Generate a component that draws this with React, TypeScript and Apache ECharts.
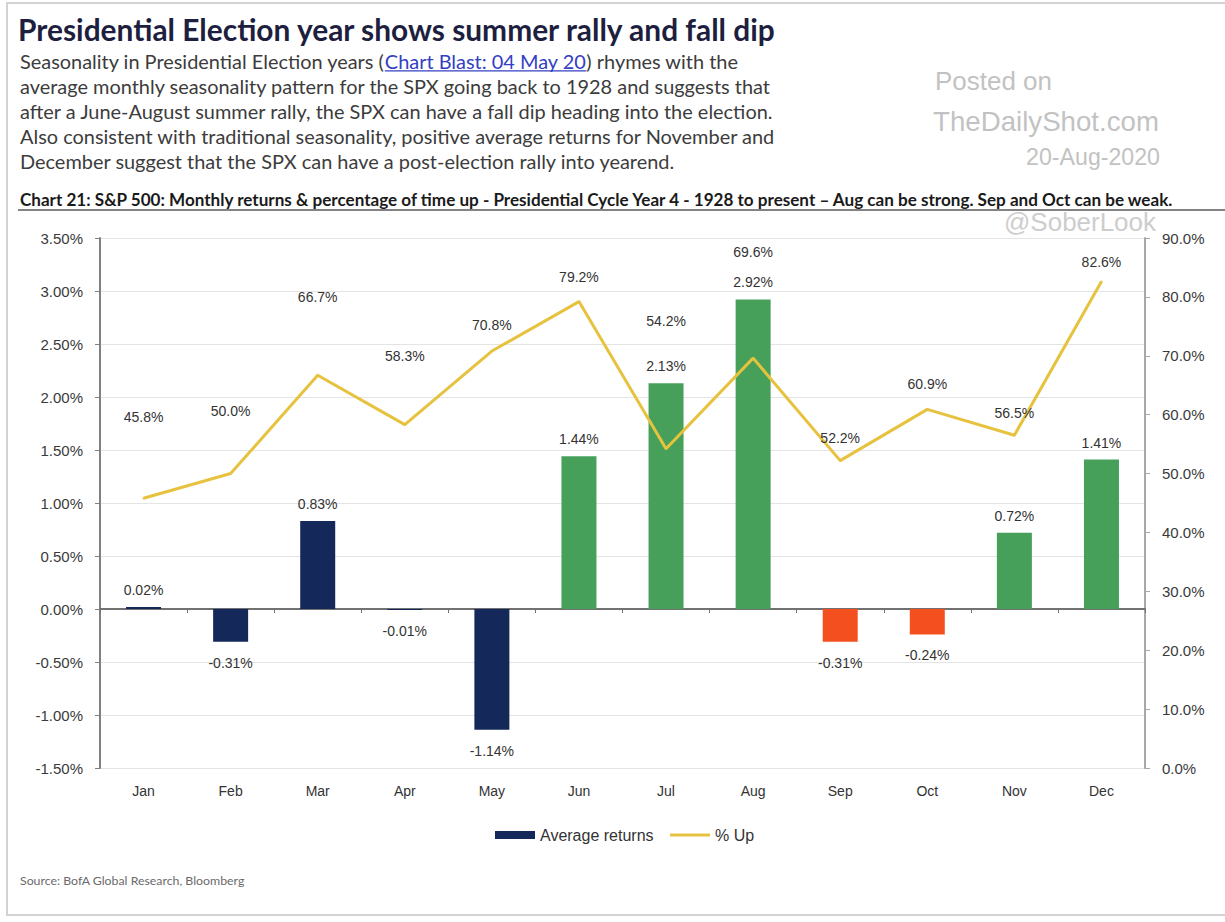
import React, { useEffect, useRef } from 'react';
import * as echarts from 'echarts';

// ---------- data ----------
const months = ['Jan', 'Feb', 'Mar', 'Apr', 'May', 'Jun', 'Jul', 'Aug', 'Sep', 'Oct', 'Nov', 'Dec'];
const avgReturns = [0.02, -0.31, 0.83, -0.01, -1.14, 1.44, 2.13, 2.92, -0.31, -0.24, 0.72, 1.41];
const pctUp = [45.8, 50.0, 66.7, 58.3, 70.8, 79.2, 54.2, 69.6, 52.2, 60.9, 56.5, 82.6];
const monthPhase = ['pre', 'pre', 'pre', 'pre', 'pre', 'rally', 'rally', 'rally', 'dip', 'dip', 'post', 'post'];
const leftAxisRange = { min: -1.5, max: 3.5, step: 0.5 };
const rightAxisRange = { min: 0, max: 90, step: 10 };

// ---------- styling (not data) ----------
const phaseColor: Record<string, string> = {
  pre: '#15285a',
  rally: '#46a05a',
  dip: '#f4501f',
  post: '#46a05a',
};
const pctLabelLift = [81, 63, 78, 69, 26, 25, 128, 106, 23, 25, 22, 20];

const titleText = 'Presidential Election year shows summer rally and fall dip';
const line1a = 'Seasonality in Presidential Election years (';
const line1link = 'Chart Blast: 04 May 20';
const line1c = ') rhymes with the';
const bodyLines = [
  'average monthly seasonality pattern for the SPX going back to 1928 and suggests that',
  'after a June-August summer rally, the SPX can have a fall dip heading into the election.',
  'Also consistent with traditional seasonality, positive average returns for November and',
  'December suggest that the SPX can have a post-election rally into yearend.',
];
const chartTitle =
  'Chart 21: S&P 500: Monthly returns & percentage of time up - Presidential Cycle Year 4 - 1928 to present \u2013 Aug can be strong. Sep and Oct can be weak.';
const sourceText = 'Source: BofA Global Research, Bloomberg';

const BODY_FONT = 'Lato';
const AXIS_FONT = 'Liberation Sans';

function measure(text: string, family: string, weight: string, size: number) {
  const c = document.createElement('canvas').getContext('2d')!;
  c.font = `${weight} ${size}px "${family}"`;
  return c.measureText(text).width;
}
function fit(text: string, family: string, weight: string, target: number) {
  return (100 * target) / measure(text, family, weight, 100);
}

export default function App() {
  const ref = useRef<HTMLDivElement>(null);
  useEffect(() => {
    const chart = echarts.init(ref.current!, null, { renderer: 'svg' });

    const titleSize = fit(titleText, BODY_FONT, 'bold', 760);
    const bodySize = fit(bodyLines[0], BODY_FONT, 'normal', 752);
    const chartTitleSize = fit(chartTitle, BODY_FONT, 'bold', 1157);
    const sourceSize = fit(sourceText, BODY_FONT, 'normal', 225);
    const wA = measure(line1a, BODY_FONT, 'normal', bodySize);
    const wLink = measure(line1link, BODY_FONT, 'normal', bodySize);

    const txt = (
      text: string,
      x: number,
      y: number,
      size: number,
      fill: string,
      family: string,
      weight = 'normal',
      align = 'left'
    ) => ({
      type: 'text',
      x,
      y,
      silent: true,
      style: {
        text,
        fill,
        fontSize: size,
        fontFamily: family,
        fontWeight: weight,
        align,
        textAlign: align,
        verticalAlign: 'middle',
        textVerticalAlign: 'middle',
      },
    });

    const bodyY = [61, 86, 111, 136, 161];

    const graphic: any[] = [
      {
        type: 'rect',
        silent: true,
        shape: { x: 7, y: 3, width: 1240, height: 912 },
        style: { fill: 'none', stroke: '#d2d2d2', lineWidth: 2 },
      },
      txt(titleText, 18, 29, titleSize, '#1e1f3f', BODY_FONT, 'bold'),
      txt(line1a, 20, bodyY[0], bodySize, '#3c3c3c', BODY_FONT),
      txt(line1link, 20 + wA, bodyY[0], bodySize, '#3340c4', BODY_FONT),
      txt(line1c, 20 + wA + wLink, bodyY[0], bodySize, '#3c3c3c', BODY_FONT),
      {
        type: 'line',
        silent: true,
        shape: { x1: 20 + wA, y1: bodyY[0] + bodySize * 0.5, x2: 20 + wA + wLink, y2: bodyY[0] + bodySize * 0.5 },
        style: { stroke: '#3340c4', lineWidth: 1.2 },
      },
      ...bodyLines.map((l, i) => txt(l, 20, bodyY[i + 1], bodySize, '#3c3c3c', BODY_FONT)),
      txt('Posted on', 935, 81, fit('Posted on', AXIS_FONT, 'normal', 117), '#c2c2c2', AXIS_FONT),
      txt('TheDailyShot.com', 933, 121, fit('TheDailyShot.com', AXIS_FONT, 'normal', 226), '#c2c2c2', AXIS_FONT),
      txt('20-Aug-2020', 1160, 157, fit('20-Aug-2020', AXIS_FONT, 'normal', 134), '#c2c2c2', AXIS_FONT, 'normal', 'right'),
      txt('@SoberLook', 1004, 222, fit('@SoberLook', AXIS_FONT, 'normal', 152), '#cdcdcd', AXIS_FONT),
      txt(chartTitle, 20, 199, chartTitleSize, '#1a1a1a', BODY_FONT, 'bold'),
      {
        type: 'line',
        silent: true,
        shape: { x1: 18, y1: 210, x2: 1225, y2: 210 },
        style: { stroke: '#5a5a5a', lineWidth: 1.5 },
      },
      txt(sourceText, 20, 880, sourceSize, '#6a6a6a', BODY_FONT),
    ];

    const option: any = {
      animation: false,
      backgroundColor: '#ffffff',
      graphic,
      grid: { left: 100, right: 80, top: 238, bottom: 154, containLabel: false },
      legend: {
        top: 822,
        left: 490,
        itemWidth: 40,
        itemHeight: 8,
        itemGap: 15,
        textStyle: { fontSize: 16, color: '#333', fontFamily: AXIS_FONT },
        data: [
          { name: 'Average returns', icon: 'rect', itemStyle: { color: phaseColor.pre } },
          {
            name: '% Up',
            itemStyle: { color: 'rgba(0,0,0,0)', borderWidth: 0 },
            lineStyle: { width: 3, color: '#e6c23e' },
          },
        ],
      },
      xAxis: [
        {
          type: 'category',
          data: months,
          position: 'bottom',
          axisLine: { show: true, onZero: true, onZeroAxisIndex: 0, lineStyle: { color: '#717171', width: 2 } },
          axisTick: { show: true, length: 4, lineStyle: { color: '#717171' } },
          axisLabel: { show: false },
          splitLine: { show: false },
        },
        {
          type: 'category',
          data: months,
          position: 'bottom',
          axisLine: { show: false, onZero: false },
          axisTick: { show: false },
          axisLabel: { show: true, fontSize: 14, color: '#333', fontFamily: AXIS_FONT, margin: 16 },
          splitLine: { show: false },
        },
      ],
      yAxis: [
        {
          type: 'value',
          position: 'left',
          min: leftAxisRange.min,
          max: leftAxisRange.max,
          interval: leftAxisRange.step,
          axisLine: { show: true, lineStyle: { color: '#808080', width: 2 } },
          axisTick: { show: true, length: 5, lineStyle: { color: '#808080' } },
          axisLabel: {
            fontSize: 15,
            color: '#3a3a3a',
            fontFamily: AXIS_FONT,
            margin: 17,
            formatter: (v: number) => v.toFixed(2) + '%',
          },
          splitLine: { show: true, lineStyle: { color: '#e4e4e4', width: 1 } },
        },
        {
          type: 'value',
          position: 'right',
          min: rightAxisRange.min,
          max: rightAxisRange.max,
          interval: rightAxisRange.step,
          axisLine: { show: true, lineStyle: { color: '#a8a8a8', width: 2 } },
          axisTick: { show: true, length: 5, lineStyle: { color: '#a8a8a8' } },
          axisLabel: {
            fontSize: 15,
            color: '#3a3a3a',
            fontFamily: AXIS_FONT,
            margin: 17,
            formatter: (v: number) => v.toFixed(1) + '%',
          },
          splitLine: { show: false },
        },
      ],
      series: [
        {
          name: 'Average returns',
          type: 'bar',
          xAxisIndex: 0,
          yAxisIndex: 0,
          barWidth: 35,
          itemStyle: { color: phaseColor.pre },
          label: {
            show: true,
            fontSize: 14,
            color: '#333',
            fontFamily: AXIS_FONT,
            formatter: (p: any) => Number(p.value).toFixed(2) + '%',
          },
          data: avgReturns.map((v, i) => ({
            value: v,
            itemStyle: { color: phaseColor[monthPhase[i]] },
            label: { position: v >= 0 ? 'top' : 'bottom', distance: v >= 0 ? 10 : 14 },
          })),
          z: 2,
        },
        {
          name: '% Up',
          type: 'line',
          xAxisIndex: 0,
          yAxisIndex: 1,
          symbol: 'circle',
          symbolSize: 2,
          showSymbol: true,
          color: '#e6c23e',
          lineStyle: { color: '#e6c23e', width: 3 },
          itemStyle: { color: '#e6c23e' },
          label: {
            show: true,
            position: 'inside',
            fontSize: 14,
            color: '#333',
            fontFamily: AXIS_FONT,
            formatter: (p: any) => Number(p.value).toFixed(1) + '%',
          },
          data: pctUp.map((v, i) => ({ value: v, label: { offset: [0, -pctLabelLift[i]] } })),
          z: 3,
        },
      ],
    };

    chart.setOption(option);
    return () => chart.dispose();
  }, []);

  return (
    <div
      ref={ref}
      style={{ position: 'fixed', left: 0, top: 0, width: 1225, height: 922, background: '#ffffff' }}
    />
  );
}
